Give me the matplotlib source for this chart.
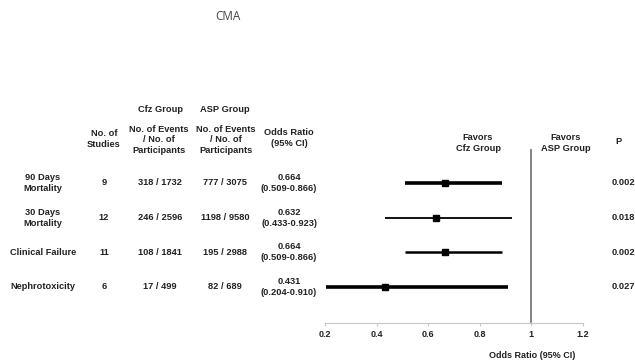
import matplotlib.pyplot as plt
from matplotlib.transforms import blended_transform_factory

plt.rcParams["font.family"] = ["Liberation Sans", "DejaVu Sans"]

outcomes = ["90 Days\nMortality", "30 Days\nMortality", "Clinical Failure", "Nephrotoxicity"]
n_studies = ["9", "12", "11", "6"]
cfz_events = ["318 / 1732", "246 / 2596", "108 / 1841", "17 / 499"]
asp_events = ["777 / 3075", "1198 / 9580", "195 / 2988", "82 / 689"]
or_text = ["0.664\n(0.509-0.866)", "0.632\n(0.433-0.923)", "0.664\n(0.509-0.866)", "0.431\n(0.204-0.910)"]
p_values = ["0.002", "0.018", "0.002", "0.027"]
or_est = [0.664, 0.632, 0.664, 0.431]
ci_lo = [0.509, 0.433, 0.509, 0.204]
ci_hi = [0.886, 0.923, 0.886, 0.910]
line_w = [2.6, 1.3, 1.8, 2.6]

fig = plt.figure(figsize=(6.35, 3.64), dpi=100)
ax = fig.add_axes([325/635, 41/364, 258/635, 183/364])

ypos = [4, 3, 2, 1]
for y, est, lo, hi, lw in zip(ypos, or_est, ci_lo, ci_hi, line_w):
    ax.plot([lo, hi], [y, y], color="black", lw=lw, solid_capstyle="butt")
    ax.plot(est, y, marker="s", color="black", ms=4.5)

ax.plot([1, 1], [0, 4.95], color="#7a7a7a", lw=1.3)
ax.set_xlim(0.2, 1.2)
ax.set_ylim(-0.04, 5.24)
ax.set_xticks([0.2, 0.4, 0.6, 0.8, 1, 1.2])
ax.set_xticklabels(["0.2", "0.4", "0.6", "0.8", "1", "1.2"])
for s in ["top", "right", "left"]:
    ax.spines[s].set_visible(False)
ax.spines["bottom"].set_color("#c8c8c8")
ax.set_yticks([])
ax.tick_params(axis="x", colors="#c8c8c8", length=2, labelsize=6.5, labelcolor="#222222", pad=3)
for t in ax.get_xticklabels():
    t.set_fontweight("bold")
ax.set_xlabel("Odds Ratio (95% CI)", fontsize=6.5, fontweight="bold", color="#222222", va="center")
ax.xaxis.set_label_coords((532 - 325)/258, -33/183)

tr = blended_transform_factory(fig.transFigure, ax.transData)
kw = dict(fontsize=6.7, fontweight="bold", color="#222222", ha="center", va="center",
          linespacing=1.25, transform=tr)
for y, a, b, c, d, e, p in zip(ypos, outcomes, n_studies, cfz_events, asp_events, or_text, p_values):
    ax.text(43/635, y, a, **kw)
    ax.text(104/635, y, b, **kw)
    ax.text(160/635, y, c, **kw)
    ax.text(225/635, y, d, **kw)
    ax.text(289/635, y, e, **kw)
    ax.text(612/635, y, p, **{**kw, "ha": "left"})

fk = dict(fontsize=6.7, fontweight="bold", color="#222222", ha="center", va="center", linespacing=1.25)
fig.text(160/635, 1 - 109/364, "Cfz Group", **fk)
fig.text(225/635, 1 - 109/364, "ASP Group", **fk)
fig.text(104/635, 1 - 139/364, "No. of\nStudies", **fk)
fig.text(159/635, 1 - 140/364, "No. of Events\n/ No. of\nParticipants", **fk)
fig.text(226/635, 1 - 140/364, "No. of Events\n/ No. of\nParticipants", **fk)
fig.text(289/635, 1 - 138/364, "Odds Ratio\n(95% CI)", **fk)
fig.text(478/635, 1 - 143/364, "Favors\nCfz Group", **fk)
fig.text(566/635, 1 - 143/364, "Favors\nASP Group", **fk)
fig.text(618/635, 1 - 142/364, "P", **fk)
fig.text(228/635, 1 - 16/364, "CMA", fontsize=8.5, color="#444444", ha="center", va="center",
         family=["Open Sans", "DejaVu Sans"])

fig.savefig("out.png", dpi=100)
